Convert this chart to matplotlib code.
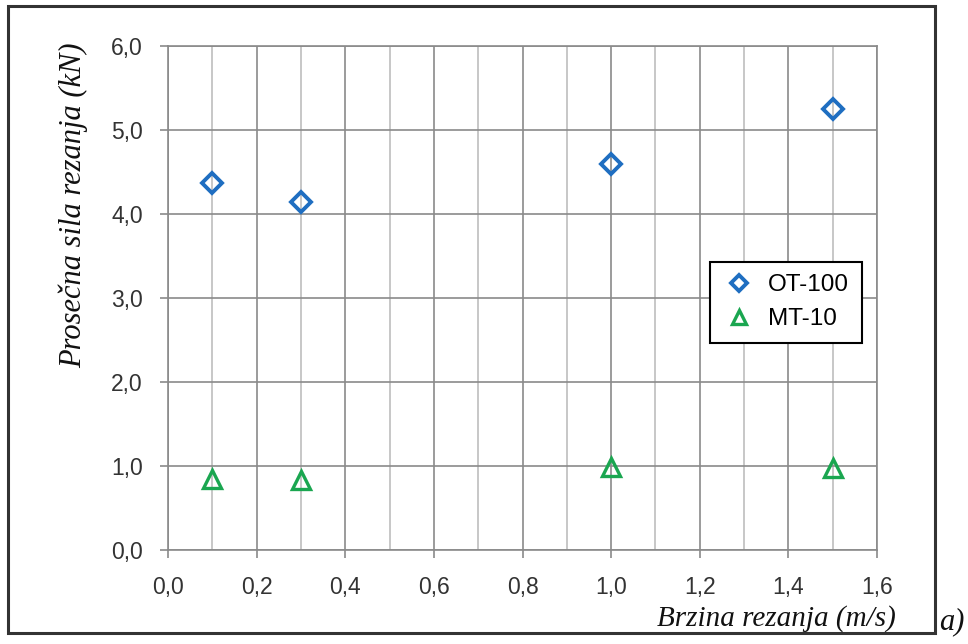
import matplotlib
matplotlib.use("Agg")
import matplotlib.pyplot as plt
from matplotlib.patches import Rectangle
from matplotlib.ticker import FuncFormatter, MultipleLocator


# brzina rezanja (m/s)
speed = [0.1, 0.3, 1.0, 1.5]
# prosecna sila rezanja (kN)
force_ot100 = [4.37, 4.14, 4.60, 5.25]
force_mt10 = [0.84, 0.83, 0.99, 0.98]

labels = ["OT-100", "MT-10"]
x_label = "Brzina rezanja (m/s)"
y_label = "Prosečna sila rezanja (kN)"


def comma_fmt(value, pos):
    return f"{value:.1f}".replace(".", ",")


fig = plt.figure(figsize=(9.68, 6.44), dpi=100)
ax = fig.add_axes([168 / 968, 1 - 550 / 644, 709 / 968, 504 / 644])

ax.plot(speed, force_ot100, linestyle="none", marker="D", markersize=10.5,
        markerfacecolor="none", markeredgecolor="#1F6EC1", markeredgewidth=2.8,
        label=labels[0])
ax.plot(speed, force_mt10, linestyle="none", marker="^", markersize=13,
        markerfacecolor="none", markeredgecolor="#1AA650", markeredgewidth=2.4,
        label=labels[1])

ax.set_xlim(0, 1.6)
ax.set_ylim(0, 6)
ax.xaxis.set_major_locator(MultipleLocator(0.2))
ax.xaxis.set_minor_locator(MultipleLocator(0.1))
ax.yaxis.set_major_locator(MultipleLocator(1.0))
ax.xaxis.set_major_formatter(FuncFormatter(comma_fmt))
ax.yaxis.set_major_formatter(FuncFormatter(comma_fmt))

ax.grid(True, which="major", color="#8a8a8a", linewidth=1.2)
ax.grid(True, which="minor", axis="x", color="#bdbdbd", linewidth=1.2)
ax.set_axisbelow(True)
for side in ax.spines.values():
    side.set_color("#8a8a8a")
    side.set_linewidth(1.2)

ax.tick_params(axis="both", which="major", direction="out", length=6,
               width=1.2, color="#8a8a8a", labelsize=16.5, labelcolor="#333333")
ax.tick_params(axis="x", which="major", pad=13)
ax.tick_params(axis="y", which="major", pad=12)
ax.tick_params(axis="x", which="minor", length=0)
for lbl in ax.get_xticklabels() + ax.get_yticklabels():
    lbl.set_family("Liberation Sans")

leg = ax.legend(loc="upper left", bbox_to_anchor=(0.7645, 0.5714),
                borderaxespad=0, fancybox=False, framealpha=1,
                edgecolor="black", prop={"family": "Liberation Sans", "size": 17.5},
                borderpad=0.5, labelspacing=0.5, handletextpad=0.55,
                handlelength=1.35, markerscale=0.8)
leg.get_frame().set_linewidth(1.5)

fig.text(776 / 968, 1 - 619 / 644, x_label, ha="center", va="center",
         family="Liberation Serif", style="italic", fontsize=21, color="#111111")
fig.text(73 / 968, 1 - 205 / 644, y_label, ha="center", va="center",
         rotation=90, family="Liberation Serif", style="italic", fontsize=22,
         color="#111111")
fig.text(952 / 968, 1 - 622 / 644, "a)", ha="center", va="center",
         family="Liberation Serif", style="italic", fontsize=22, color="#111111")

# okvir oko slike
frame = Rectangle((8 / 968, 1 - 633 / 644), 927 / 968, 627 / 644,
                  transform=fig.transFigure, fill=False,
                  edgecolor="#333333", linewidth=2.2)
fig.patches.append(frame)

fig.savefig("out.png", dpi=100)
